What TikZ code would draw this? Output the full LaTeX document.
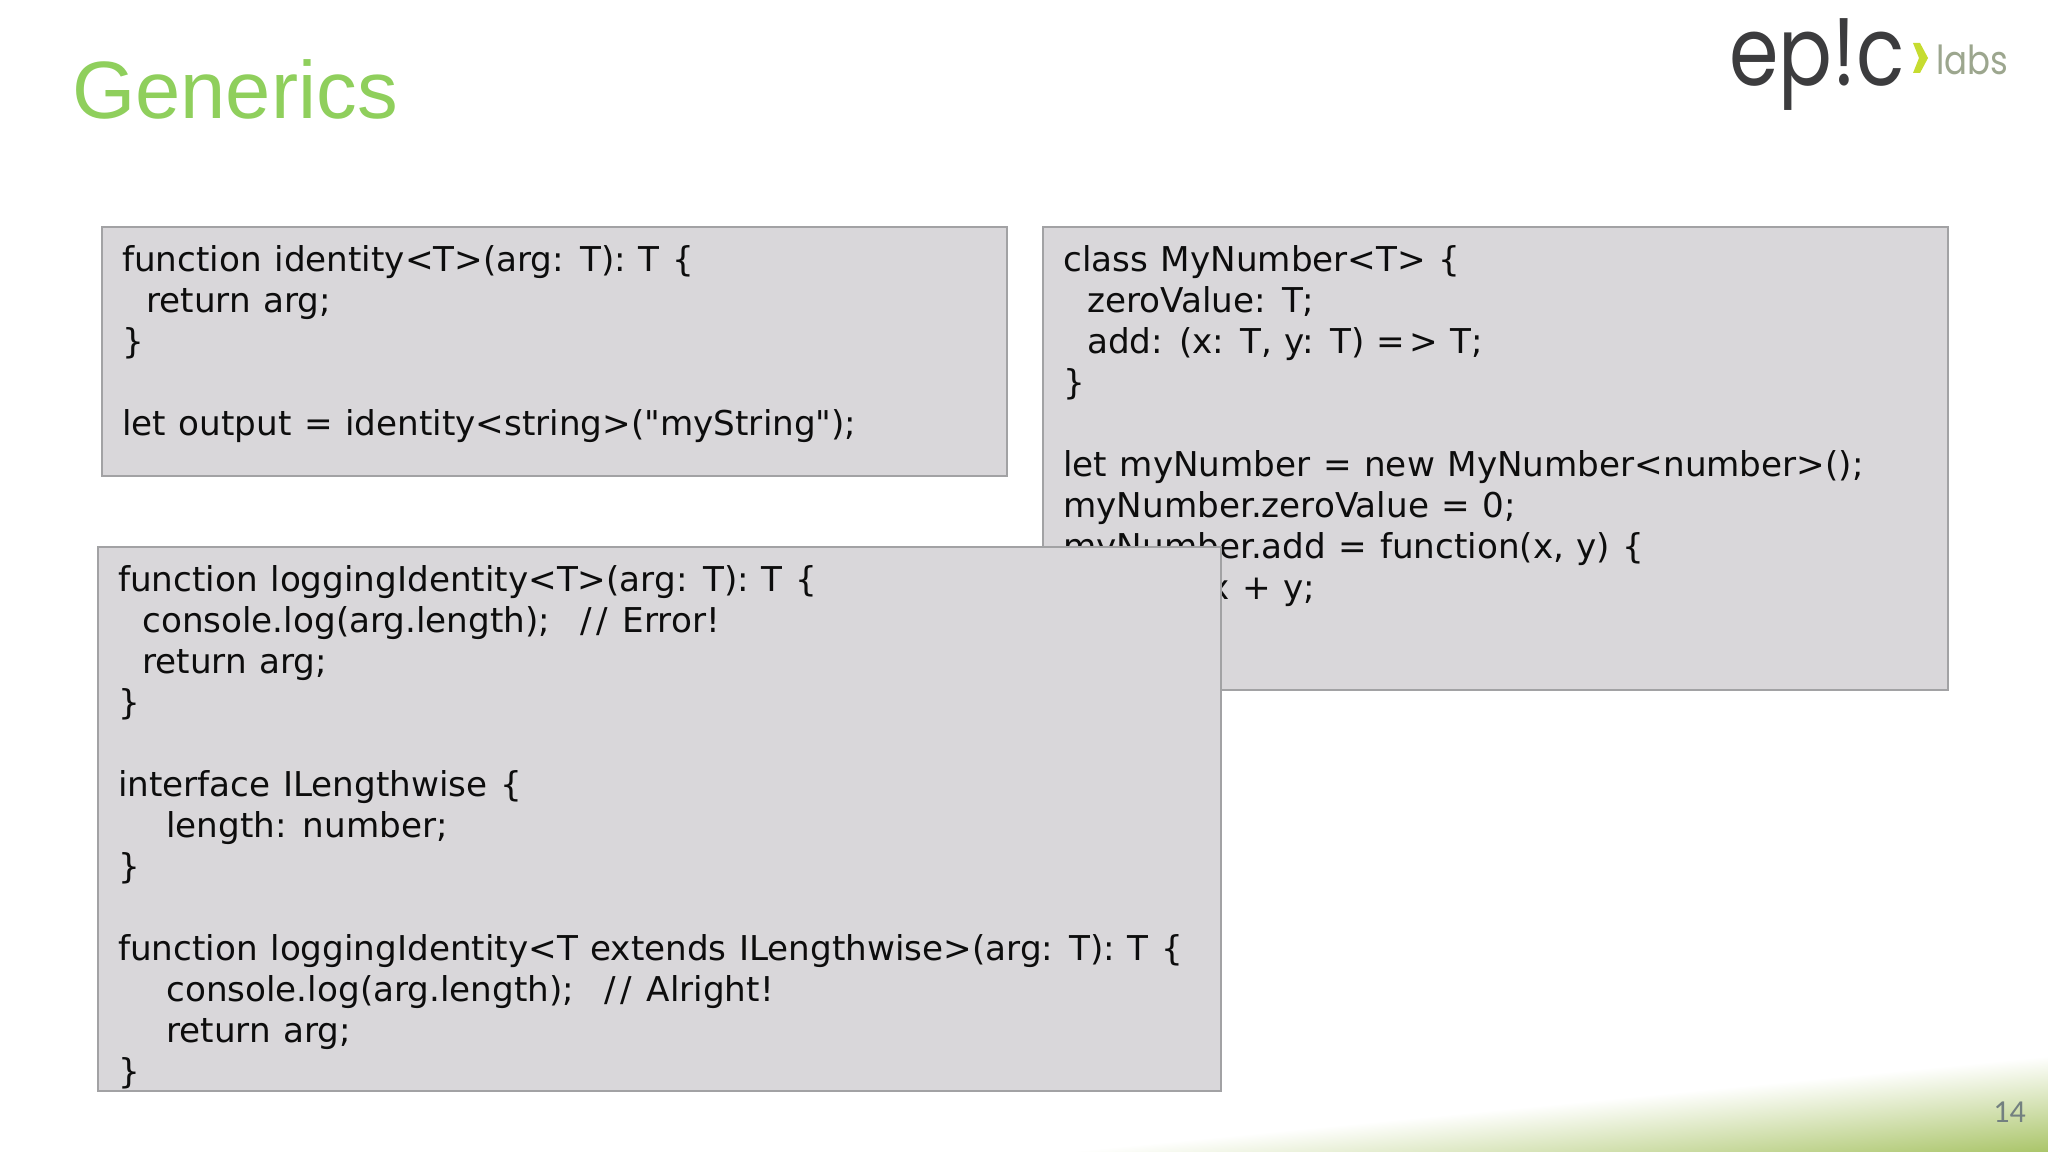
\documentclass[tikz,border=0pt]{standalone}
\usepackage{fontspec}
\usetikzlibrary{positioning,calc}
\setmainfont{DejaVu Sans}
\newfontfamily\codefont[WordSpace=1.15]{DejaVu Sans}
\newfontfamily\titrefont{Liberation Sans}
\newfontfamily\logofont{Poppins}
\newfontfamily\pagefont{Carlito}
\definecolor{titrevert}{HTML}{8FCF5C}
\definecolor{fondcode}{HTML}{D9D7DA}
\definecolor{bordcode}{HTML}{A2A2A4}
\definecolor{logogris}{HTML}{3C3C3E}
\definecolor{logovert}{HTML}{C6DC30}
\definecolor{labsgris}{HTML}{9CA68E}
\definecolor{basvert}{HTML}{A6C262}
\definecolor{basmoyen}{HTML}{D6E4BA}
\tikzset{
  codebox/.style={draw=bordcode,fill=fondcode,line width=1.5pt,anchor=north west,inner sep=0pt},
  codetext/.style={anchor=north west,inner sep=0pt,align=left,text=black!95,font=\codefont\fontsize{25.65}{30.75}\selectfont}
}
\newcommand{\ind}[1]{\hspace*{#1}}
\newcommand{\barres}{\kern4pt/\kern3pt/\kern2pt}
\begin{document}
\begin{tikzpicture}[x=0.75pt,y=0.75pt]
\pgfmathsetmacro{\decalx}{21}%
\pgfmathsetmacro{\decaly}{19.5}%
\pgfmathsetmacro{\pentea}{5.56}%
\useasboundingbox (0,0) rectangle (2048,-1152);

    %bas de page
    \begin{scope}
    \clip (900,-1152) rectangle (2048,-1040);
    \begin{scope}[transform canvas={rotate around={\pentea:(2048,-1056)}}]
    \shade[top color=white,middle color=basmoyen,bottom color=basvert] (800,-1056) rectangle (2200,-1156);
    \end{scope}
    \end{scope}
    \node[text=gray!90!teal,font=\pagefont\fontsize{24}{28}\selectfont,anchor=base east,inner sep=0pt] (numero) at (2026,-1122) {14};

    %titre
    \node[text=titrevert,font=\titrefont\fontsize{61}{70}\selectfont,anchor=base west,inner sep=0pt] (titre) at (72,-118.5) {Generics};

    %logo
    \node[text=logogris,font=\logofont\fontsize{72}{80}\selectfont,anchor=base west,inner sep=0pt,xscale=0.83] (logo) at (1729,-86) {ep!c};
    \fill[logovert] (1913,-43) -- (1920,-43) -- (1928,-58) -- (1920,-73) -- (1913,-73) -- (1919,-58) -- cycle;
    \node[text=labsgris,font=\logofont\fontsize{30}{34}\selectfont,anchor=base west,inner sep=0pt,xscale=0.85] (labs) at (1936,-75) {labs};

    %boite classe
    \node[codebox,minimum width=679pt,minimum height=347.6pt] (boxclass) at (1042,-225.5) {};
    \node[codetext] (textclass) at ($(boxclass.north west)+(\decalx,-\decaly)$) {class MyNumber<T> \{\\
\ind{18pt}zeroValue: T;\\
\ind{18pt}add: (x: T, y: T) =\kern3pt> T;\\
\}\\
\mbox{}\\
let myNumber = new MyNumber<number>();\\
myNumber.zeroValue = 0;\\
myNumber.add = function(x, y) \{\\
\ind{22pt}return x + y;\\
\};};

    %boite identity
    \node[codebox,minimum width=679pt,minimum height=186.8pt] (boxid) at (101,-225.5) {};
    \node[codetext] (textid) at ($(boxid.north west)+(\decalx,-\decaly)$) {function identity<T>(arg: T): T \{\\
\ind{18pt}return arg;\\
\}\\
\mbox{}\\
let output = identity<string>("myString");};

    %boite logging
    \node[codebox,minimum width=842.6pt,minimum height=408pt] (boxlog) at (97,-545.5) {};
    \node[codetext] (textlog) at ($(boxlog.north west)+(\decalx,-\decaly)$) {function loggingIdentity<T>(arg: T): T \{\\
\ind{18pt}console.log(arg.length);\ \ \barres{} Error!\\
\ind{18pt}return arg;\\
\}\\
\mbox{}\\
interface ILengthwise \{\\
\ind{36pt}length: number;\\
\}\\
\mbox{}\\
function loggingIdentity<T extends ILengthwise>(arg: T): T \{\\
\ind{36pt}console.log(arg.length);\ \ \barres{} Alright!\\
\ind{36pt}return arg;\\
\}};

\end{tikzpicture}
\end{document}
